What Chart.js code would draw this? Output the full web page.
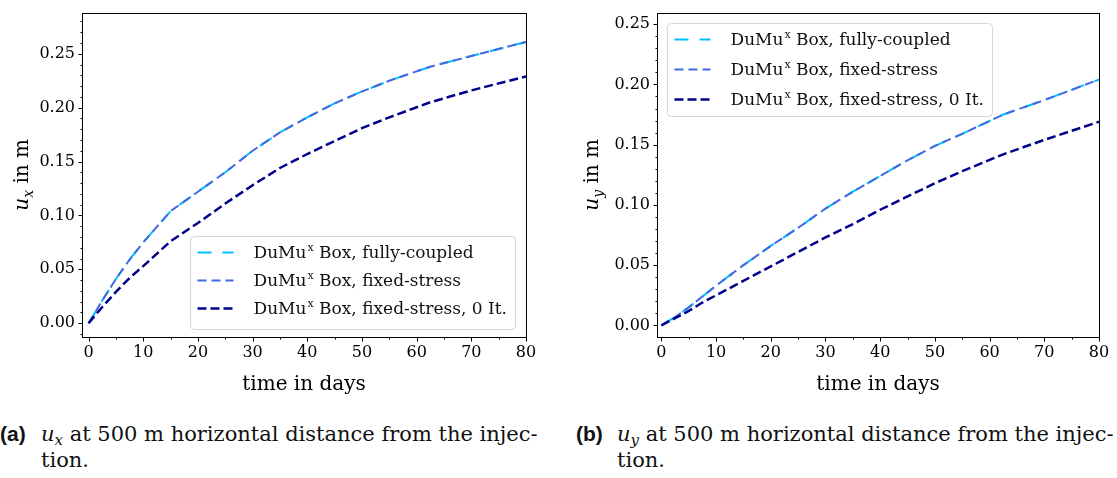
<!DOCTYPE html>
<html>
<head>
<meta charset="utf-8">
<script src="https://cdn.jsdelivr.net/npm/chart.js@4.4.1/dist/chart.umd.min.js"></script>
<style>
  body { margin: 0; background: #fff; width: 1117px; height: 478px; overflow: hidden; position: relative; }
  canvas { position: absolute; top: 0; }
  #chartX { left: 0; }
  #chartY { left: 560px; }
  .cap { position: absolute; top: 421px; font-family: 'DejaVu Serif', serif; font-size: 21px; line-height: 26px; color: #111; white-space: nowrap; }
  .cap .tag { font-family: 'Liberation Sans', sans-serif; font-weight: bold; font-size: 21px; display: inline-block; width: 41px; }
  .cap .pad { display: inline-block; width: 41px; }
  .cap sub { font-size: 15px; font-style: italic; vertical-align: -4px; line-height: 0; }
</style>
</head>
<body>
<canvas id="chartX" width="540" height="400"></canvas>
<canvas id="chartY" width="557" height="400"></canvas>
<div class="cap" style="left:0px"><span class="tag">(a)</span><i>u</i><sub>x</sub> at 500 m horizontal distance from the injec-<br><span class="pad"></span>tion.</div>
<div class="cap" style="left:576px"><span class="tag">(b)</span><i>u</i><sub>y</sub> at 500 m horizontal distance from the injec-<br><span class="pad"></span>tion.</div>
<script>
// time steps in days
const days = [0, 2.5, 5, 7.5, 10, 15, 20, 25, 30, 35, 40, 45, 50, 55, 62.5, 70, 80];

// horizontal displacement u_x [m]
const uxFullyCoupled = [0, 0.021, 0.041, 0.059, 0.075, 0.104, 0.122, 0.140, 0.160, 0.177, 0.191, 0.204, 0.215, 0.225, 0.238, 0.248, 0.261];
const uxFixedStress  = [0, 0.021, 0.041, 0.059, 0.075, 0.104, 0.122, 0.140, 0.160, 0.177, 0.191, 0.204, 0.215, 0.225, 0.238, 0.248, 0.261];
const uxFixedStress0 = [0, 0.015, 0.029, 0.042, 0.053, 0.076, 0.093, 0.111, 0.128, 0.144, 0.157, 0.169, 0.181, 0.191, 0.205, 0.216, 0.229];

// vertical displacement u_y [m]
const uyFullyCoupled = [0, 0.007, 0.015, 0.024, 0.033, 0.050, 0.066, 0.081, 0.097, 0.111, 0.124, 0.137, 0.149, 0.159, 0.175, 0.187, 0.204];
const uyFixedStress  = [0, 0.007, 0.015, 0.024, 0.033, 0.050, 0.066, 0.081, 0.097, 0.111, 0.124, 0.137, 0.149, 0.159, 0.175, 0.187, 0.204];
const uyFixedStress0 = [0, 0.006, 0.012, 0.019, 0.025, 0.037, 0.049, 0.061, 0.073, 0.084, 0.096, 0.107, 0.118, 0.128, 0.142, 0.154, 0.169];

const seriesLabels = ['DuMuˣ Box, fully-coupled', 'DuMuˣ Box, fixed-stress', 'DuMuˣ Box, fixed-stress, 0 It.'];
const xTicks = [0, 10, 20, 30, 40, 50, 60, 70, 80];
const yTicks = [0, 0.05, 0.10, 0.15, 0.20, 0.25];

const seriesColors = ['#00bfff', '#4169e1', '#00008b'];
const seriesDash = [[14, 11], [9, 5], [9, 4]];
const seriesWidth = [2, 2, 2.5];

const SERIF = "'DejaVu Serif', serif";
Chart.defaults.font.family = SERIF;
Chart.defaults.color = '#000';

// draws "DuMuˣ ..." with a raised small x
function richText(ctx, text, x, y, size) {
  const parts = text.split('ˣ');
  parts.forEach((p, i) => {
    ctx.font = size + 'px ' + SERIF;
    ctx.fillText(p, x, y);
    x += ctx.measureText(p).width;
    if (i < parts.length - 1) {
      ctx.font = Math.round(size * 0.65) + 'px ' + SERIF;
      ctx.fillText('x', x + 1, y - size * 0.33);
      x += ctx.measureText('x').width + 1;
    }
  });
}

// full box, major/minor ticks
const frameTicks = {
  id: 'frameTicks',
  afterDraw(chart) {
    const { ctx, chartArea: a, scales: { x, y } } = chart;
    ctx.save();
    ctx.strokeStyle = '#000';
    ctx.lineWidth = 1;
    ctx.strokeRect(Math.round(a.left) + 0.5, Math.round(a.top) + 0.5, Math.round(a.right - a.left), Math.round(a.bottom - a.top));
    ctx.beginPath();
    const b = Math.round(a.bottom) + 0.5, l = Math.round(a.left) + 0.5;
    const tickX = (v, len) => { const px = Math.round(x.getPixelForValue(v)) + 0.5; ctx.moveTo(px, b); ctx.lineTo(px, b + len); };
    const tickY = (v, len) => { const py = Math.round(y.getPixelForValue(v)) + 0.5; ctx.moveTo(l, py); ctx.lineTo(l - len, py); };
    xTicks.forEach(v => tickX(v, 4));
    for (let v = 5; v < 80; v += 10) tickX(v, 2);
    for (let k = Math.ceil(y.min * 100); k <= Math.floor(y.max * 100); k++) {
      tickY(k / 100, k % 5 === 0 ? 4 : 2);
    }
    ctx.stroke();
    ctx.restore();
  }
};

// axis titles, y title with italic u and subscript
const axisTitles = {
  id: 'axisTitles',
  afterDraw(chart, args, o) {
    const { ctx, chartArea: a } = chart;
    ctx.save();
    ctx.fillStyle = '#000';
    ctx.textAlign = 'center';
    ctx.textBaseline = 'alphabetic';
    ctx.font = '20px ' + SERIF;
    ctx.fillText('time in days', (a.left + a.right) / 2, o.xTitleBase);

    ctx.translate(o.yTitleBase, (a.top + a.bottom) / 2);
    ctx.rotate(-Math.PI / 2);
    ctx.textAlign = 'left';
    const fU = 'italic 20px ' + SERIF, fS = 'italic 14px ' + SERIF, fR = '20px ' + SERIF;
    ctx.font = fU; const wU = ctx.measureText('u').width;
    ctx.font = fS; const wS = ctx.measureText(o.sub).width;
    ctx.font = fR; const wR = ctx.measureText(' in m').width;
    let px = -(wU + wS + wR) / 2;
    ctx.font = fU; ctx.fillText('u', px, 0); px += wU;
    ctx.font = fS; ctx.fillText(o.sub, px, 5); px += wS;
    ctx.font = fR; ctx.fillText(' in m', px, 0);
    ctx.restore();
  }
};

// legend box inside the plot area
const insetLegend = {
  id: 'insetLegend',
  afterDatasetsDraw(chart, args, o) {
    const { ctx, chartArea: a } = chart;
    const w = 325, h = 93;
    const bx = o.corner === 'tl' ? a.left + 9.5 : a.right - 11.5 - w;
    const by = o.corner === 'tl' ? a.top + 10 : a.bottom - 8.5 - h;
    ctx.save();
    ctx.beginPath();
    ctx.roundRect(Math.round(bx) + 0.5, Math.round(by) + 0.5, w, h, 4);
    ctx.fillStyle = 'rgba(255,255,255,0.85)';
    ctx.fill();
    ctx.strokeStyle = '#d6d6d6';
    ctx.lineWidth = 1;
    ctx.stroke();
    chart.data.datasets.forEach((ds, i) => {
      const ry = by + 17 + i * o.rowGap;
      ctx.beginPath();
      ctx.setLineDash(ds.borderDash);
      ctx.strokeStyle = ds.borderColor;
      ctx.lineWidth = ds.borderWidth;
      ctx.moveTo(bx + 8, ry);
      ctx.lineTo(bx + 44, ry);
      ctx.stroke();
      ctx.setLineDash([]);
      ctx.fillStyle = '#111';
      ctx.textAlign = 'left';
      ctx.textBaseline = 'middle';
      richText(ctx, ds.label, bx + 64, ry + 1, 17);
    });
    ctx.restore();
  }
};

function makeChart(id, values, o) {
  const datasets = values.map((vals, i) => ({
    label: seriesLabels[i],
    data: days.map((d, k) => ({ x: d, y: vals[k] })),
    borderColor: seriesColors[i],
    borderDash: seriesDash[i],
    borderWidth: seriesWidth[i],
    pointRadius: 0,
    fill: false,
    tension: 0,
    order: 2 - i
  }));
  return new Chart(document.getElementById(id), {
    type: 'line',
    data: { datasets },
    options: {
      responsive: false,
      animation: false,
      events: [],
      layout: { padding: { top: 8, right: o.padRight, left: 0, bottom: 0 } },
      plugins: {
        legend: { display: false },
        tooltip: { enabled: false },
        axisTitles: { sub: o.sub, xTitleBase: 390, yTitleBase: o.yTitleBase },
        insetLegend: { corner: o.legendCorner, rowGap: o.rowGap }
      },
      scales: {
        x: {
          type: 'linear', min: o.xMin, max: 80,
          afterBuildTicks: s => { s.ticks = xTicks.map(v => ({ value: v })); },
          afterFit: s => { s.height = o.xAxisH; },
          grid: { display: false, drawTicks: true, tickLength: 4 },
          border: { display: false },
          ticks: { padding: 2, font: { size: 16 }, maxRotation: 0, autoSkip: false, callback: v => String(v) }
        },
        y: {
          type: 'linear', min: o.yMin, max: o.yMax,
          afterBuildTicks: s => { s.ticks = yTicks.map(v => ({ value: v })); },
          afterFit: s => { s.width = o.yAxisW; },
          grid: { display: false, drawTicks: true, tickLength: 4 },
          border: { display: false },
          ticks: { padding: 3, font: { size: 16 }, autoSkip: false, callback: v => v.toFixed(2) }
        }
      }
    },
    plugins: [frameTicks, axisTitles, insetLegend]
  });
}

makeChart('chartX', [uxFullyCoupled, uxFixedStress, uxFixedStress0], {
  sub: 'x', xMin: -1.2, yMin: -0.0128, yMax: 0.2882,
  yAxisW: 82, padRight: 14, xAxisH: 63, yTitleBase: 28,
  legendCorner: 'br', rowGap: 28
});

makeChart('chartY', [uyFullyCoupled, uyFixedStress, uyFixedStress0], {
  sub: 'y', xMin: -0.8, yMin: -0.0096, yMax: 0.2596,
  yAxisW: 97, padRight: 18, xAxisH: 63, yTitleBase: 38,
  legendCorner: 'tl', rowGap: 30
});
</script>
</body>
</html>
